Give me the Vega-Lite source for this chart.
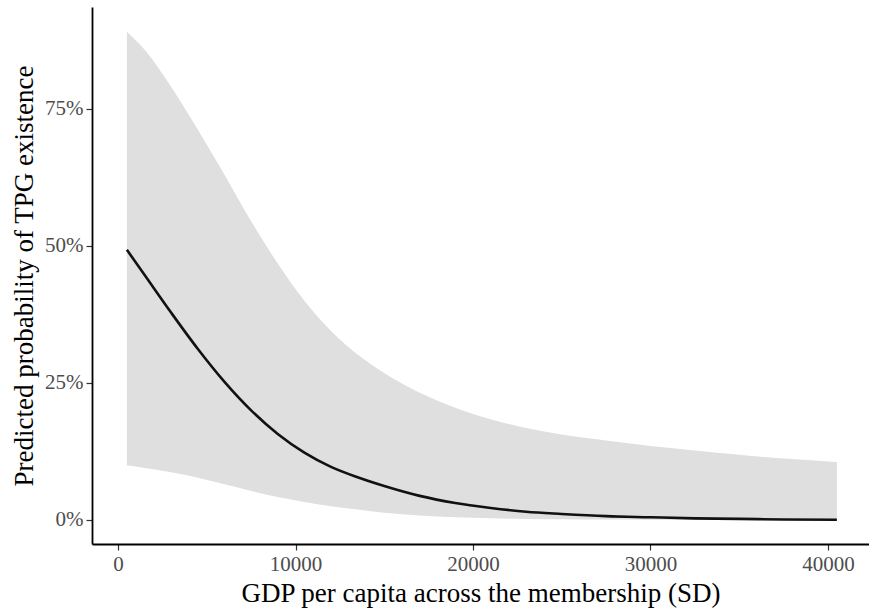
{
  "$schema": "https://vega.github.io/schema/vega-lite/v6.json",
  "width": 777,
  "height": 537,
  "autosize": {"type": "none"},
  "padding": {"left": 92, "top": 7, "right": 0, "bottom": 68},
  "background": "white",
  "config": {
    "view": {"stroke": null},
    "font": "Liberation Serif",
    "axis": {
      "grid": false,
      "domainColor": "#000000",
      "domainWidth": 1.8,
      "tickColor": "#333333",
      "tickWidth": 1.2,
      "tickSize": 6,
      "labelFont": "Liberation Serif",
      "labelFontSize": 21,
      "labelColor": "#4d4d4d",
      "labelPadding": 3,
      "titleFont": "Liberation Serif",
      "titleFontSize": 27,
      "titleFontWeight": "normal",
      "titleColor": "#000000"
    }
  },
  "data": {
    "values": [
      {"gdp_sd": 500, "fit": 0.493, "lower": 0.100, "upper": 0.891},
      {"gdp_sd": 1500, "fit": 0.447, "lower": 0.095, "upper": 0.858},
      {"gdp_sd": 3000, "fit": 0.378, "lower": 0.087, "upper": 0.790},
      {"gdp_sd": 4500, "fit": 0.312, "lower": 0.077, "upper": 0.712},
      {"gdp_sd": 6000, "fit": 0.252, "lower": 0.065, "upper": 0.630},
      {"gdp_sd": 7500, "fit": 0.200, "lower": 0.053, "upper": 0.545},
      {"gdp_sd": 9000, "fit": 0.157, "lower": 0.042, "upper": 0.468},
      {"gdp_sd": 10500, "fit": 0.123, "lower": 0.033, "upper": 0.400},
      {"gdp_sd": 12000, "fit": 0.097, "lower": 0.025, "upper": 0.345},
      {"gdp_sd": 13500, "fit": 0.078, "lower": 0.019, "upper": 0.302},
      {"gdp_sd": 15000, "fit": 0.062, "lower": 0.013, "upper": 0.268},
      {"gdp_sd": 17000, "fit": 0.044, "lower": 0.008, "upper": 0.232},
      {"gdp_sd": 19000, "fit": 0.031, "lower": 0.005, "upper": 0.205},
      {"gdp_sd": 21000, "fit": 0.022, "lower": 0.003, "upper": 0.184},
      {"gdp_sd": 23000, "fit": 0.015, "lower": 0.002, "upper": 0.168},
      {"gdp_sd": 25000, "fit": 0.011, "lower": 0.0012, "upper": 0.156},
      {"gdp_sd": 27500, "fit": 0.007, "lower": 0.0007, "upper": 0.145},
      {"gdp_sd": 30000, "fit": 0.005, "lower": 0.0004, "upper": 0.135},
      {"gdp_sd": 32500, "fit": 0.003, "lower": 0.0002, "upper": 0.127},
      {"gdp_sd": 35000, "fit": 0.002, "lower": 0.0001, "upper": 0.119},
      {"gdp_sd": 37500, "fit": 0.001, "lower": 0.0001, "upper": 0.112},
      {"gdp_sd": 40500, "fit": 0.0005, "lower": 0.0, "upper": 0.106}
    ]
  },
  "encoding": {
    "x": {
      "field": "gdp_sd",
      "type": "quantitative",
      "title": "GDP per capita across the membership (SD)",
      "scale": {"domain": [-1465, 42310], "nice": false, "zero": false},
      "axis": {"values": [0, 10000, 20000, 30000, 40000], "format": "d", "titlePadding": 6}
    }
  },
  "layer": [
    {
      "mark": {"type": "area", "color": "#dfdfdf", "interpolate": "monotone"},
      "encoding": {
        "y": {
          "field": "upper",
          "type": "quantitative",
          "title": "Predicted probability of TPG existence",
          "scale": {"domain": [-0.0438, 0.936], "nice": false, "zero": false},
          "axis": {"values": [0, 0.25, 0.5, 0.75], "format": ".0%", "titlePadding": 6}
        },
        "y2": {"field": "lower"}
      }
    },
    {
      "mark": {"type": "line", "color": "#111111", "strokeWidth": 2.6, "interpolate": "monotone"},
      "encoding": {
        "y": {"field": "fit", "type": "quantitative"}
      }
    }
  ]
}
